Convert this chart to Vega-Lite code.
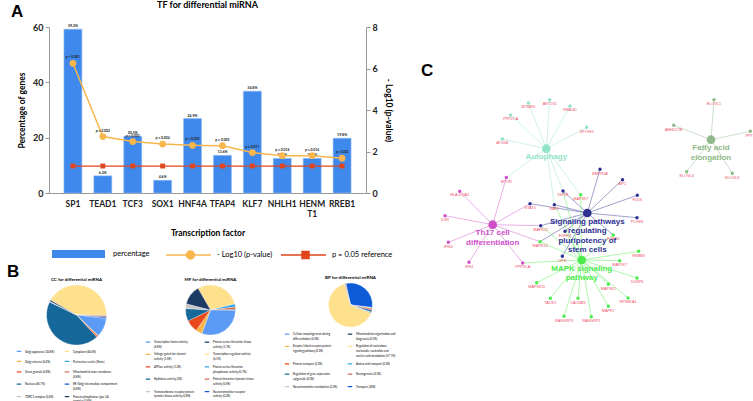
{
  "$schema": "https://vega.github.io/schema/vega-lite/v6.json",
  "background": "white",
  "padding": {"left": 7, "top": 1, "right": 0, "bottom": 0},
  "config": {
    "view": {"stroke": null},
    "font": "Lato",
    "axis": {"labelFont": "Lato", "titleFont": "Lato"},
    "legend": {"labelFont": "Lato"}
  },
  "datasets": {
    "tf": [
      {"tf": "SP1", "pct": 59.2, "pctl": "59.2%", "logp": 6.25, "ref": 1.3, "p": "p < 0.001"},
      {"tf": "TEAD1", "pct": 6.2, "pctl": "6.2%", "logp": 2.72, "ref": 1.3, "p": "p = 0.002"},
      {"tf": "TCF3", "pct": 20.5, "pctl": "20.5%", "logp": 2.48, "ref": 1.3, "p": "p = 0.003"},
      {"tf": "SOX1", "pct": 4.6, "pctl": "4.6%", "logp": 2.36, "ref": 1.3, "p": "p = 0.004"},
      {"tf": "HNF4A", "pct": 26.9, "pctl": "26.9%", "logp": 2.3, "ref": 1.3, "p": "p = 0.005"},
      {"tf": "TFAP4", "pct": 13.6, "pctl": "13.6%", "logp": 2.28, "ref": 1.3, "p": "p = 0.005"},
      {"tf": "KLF7", "pct": 36.8, "pctl": "36.8%", "logp": 1.95, "ref": 1.3, "p": "p = 0.011"},
      {"tf": "NHLH1", "pct": 12.5, "pctl": "12.5%", "logp": 1.8, "ref": 1.3, "p": "p = 0.016"},
      {"tf": "HENMT1", "pct": 12.5, "pctl": "12.5%", "logp": 1.8, "ref": 1.3, "p": "p = 0.016"},
      {"tf": "RREB1", "pct": 19.8, "pctl": "19.8%", "logp": 1.68, "ref": 1.3, "p": "p = 0.02"}
    ],
    "cc": [
      {"cat": "Cytoplasm (44.4%)", "v": 44.4, "o": 1},
      {"cat": "Perinuclear vesicle (None)", "v": 0.3, "o": 2},
      {"cat": "Mitochondrial outer membrane (0.8%)", "v": 0.8, "o": 3},
      {"cat": "ER-Golgi intermediate compartment (0.8%)", "v": 0.8, "o": 4},
      {"cat": "Golgi apparatus (10.8%)", "v": 10.8, "o": 5},
      {"cat": "Golgi cisterna (0.4%)", "v": 0.4, "o": 6},
      {"cat": "Stress granule (0.8%)", "v": 0.8, "o": 7},
      {"cat": "Nucleus (46.7%)", "v": 46.7, "o": 8},
      {"cat": "TORC1 complex (0.4%)", "v": 0.4, "o": 9},
      {"cat": "Protein phosphatase type 2A complex (0.8%)", "v": 0.8, "o": 10}
    ],
    "mf": [
      {"cat": "Transcription regulator activity (6.1%)", "v": 29, "o": 1},
      {"cat": "Protein serine/threonine phosphatase activity (0.7%)", "v": 2, "o": 2},
      {"cat": "Protein threonine/tyrosine kinase activity (0.5%)", "v": 1.7, "o": 3},
      {"cat": "Neurotransmitter receptor activity (0.2%)", "v": 0.4, "o": 4},
      {"cat": "Transcription factor activity (6.8%)", "v": 30, "o": 5},
      {"cat": "Voltage-gated ion channel activity (1.5%)", "v": 4, "o": 6},
      {"cat": "ATPase activity (1.2%)", "v": 8, "o": 7},
      {"cat": "Hydrolase activity (2%)", "v": 8, "o": 8},
      {"cat": "Transmembrane receptor protein tyrosine kinase activity (0.8%)", "v": 3, "o": 9},
      {"cat": "Protein serine/threonine kinase activity (1.7%)", "v": 12.5, "o": 10}
    ],
    "bp": [
      {"cat": "Transport (28%)", "v": 30, "o": 1},
      {"cat": "Cellular morphogenesis during differentiation (0.3%)", "v": 0.5, "o": 2},
      {"cat": "Enzyme linked receptor protein signaling pathway (0.3%)", "v": 0.5, "o": 3},
      {"cat": "Protein transport (0.3%)", "v": 1, "o": 4},
      {"cat": "Regulation of gene expression, epigenetic (0.3%)", "v": 1.5, "o": 5},
      {"cat": "Neurotransmitter metabolism (0.3%)", "v": 0.5, "o": 6},
      {"cat": "Mitochondrion organization and biogenesis (0.3%)", "v": 0.5, "o": 7},
      {"cat": "Regulation of nucleobase, nucleoside, nucleotide and nucleic acid metabolism (57.7%)", "v": 64, "o": 8},
      {"cat": "Amino acid transport (0.3%)", "v": 0.5, "o": 9},
      {"cat": "Neurogenesis (0.3%)", "v": 0.5, "o": 10}
    ],
    "nodes": [
      {"id": "aut", "label": "Autophagy", "x": 542.3, "y": 150.7, "g": "aut", "kind": "hub"},
      {"id": "fat", "label": "Fatty acid\nelongation", "x": 707, "y": 141.7, "g": "fat", "kind": "hub"},
      {"id": "th17", "label": "Th17 cell\ndifferentiation", "x": 488.7, "y": 226.7, "g": "th17", "kind": "hub"},
      {"id": "sig", "label": "Signaling pathways\nregulating\npluripotency of\nstem cells", "x": 583.3, "y": 215, "g": "sig", "kind": "hub"},
      {"id": "mapk", "label": "MAPK signaling\npathway", "x": 577.7, "y": 262, "g": "mapk", "kind": "hub"},
      {"id": "MTMR3", "x": 524.3, "y": 105, "g": "aut", "kind": "gene"},
      {"id": "AKT1S1", "x": 545.7, "y": 101.7, "g": "aut", "kind": "gene"},
      {"id": "RRAGD", "x": 566, "y": 108, "g": "aut", "kind": "gene"},
      {"id": "PPP2CA", "x": 506.7, "y": 117, "g": "aut", "kind": "gene"},
      {"id": "ZFYVE1", "x": 582.7, "y": 129.3, "g": "aut", "kind": "gene"},
      {"id": "ATG2B", "x": 498.3, "y": 141, "g": "aut", "kind": "gene"},
      {"id": "ELOVL1", "x": 710, "y": 101.7, "g": "fat", "kind": "gene"},
      {"id": "ABHD17B", "x": 669.7, "y": 127.3, "g": "fat", "kind": "gene"},
      {"id": "PPT1", "x": 746.3, "y": 133.3, "g": "fat", "kind": "gene"},
      {"id": "ELOVL4", "x": 682.7, "y": 173.7, "g": "fat", "kind": "gene"},
      {"id": "ELOVL6", "x": 728.3, "y": 175.3, "g": "fat", "kind": "gene"},
      {"id": "MTOR", "x": 502.3, "y": 179.5, "g": "th17", "kind": "gene"},
      {"id": "HLA-DQA2", "x": 455.7, "y": 193.2, "g": "th17", "kind": "gene"},
      {"id": "IL6R", "x": 441, "y": 217.7, "g": "th17", "kind": "gene"},
      {"id": "IFNG", "x": 444.3, "y": 244.3, "g": "th17", "kind": "gene"},
      {"id": "IRF4", "x": 465, "y": 264.3, "g": "th17", "kind": "gene"},
      {"id": "STAT3", "x": 526, "y": 205.7, "g": "sig", "kind": "gene"},
      {"id": "MAPK12", "x": 536.7, "y": 227.7, "g": "sig", "kind": "gene"},
      {"id": "MAPK14", "x": 536, "y": 243.7, "g": "mapk", "kind": "gene"},
      {"id": "PPP3CA", "x": 518.7, "y": 265, "g": "th17", "kind": "gene"},
      {"id": "BMPR1A", "x": 596, "y": 171.3, "g": "sig", "kind": "gene"},
      {"id": "APC", "x": 618.5, "y": 181.7, "g": "sig", "kind": "gene"},
      {"id": "FZD6", "x": 633.3, "y": 197.3, "g": "sig", "kind": "gene"},
      {"id": "PCGF6", "x": 633, "y": 219.7, "g": "sig", "kind": "gene"},
      {"id": "FGFR2", "x": 609.3, "y": 237, "g": "mapk", "kind": "gene"},
      {"id": "FGFR3", "x": 561, "y": 233.3, "g": "sig", "kind": "gene"},
      {"id": "LIFR", "x": 558.3, "y": 258.3, "g": "sig", "kind": "gene"},
      {"id": "IGF1R", "x": 559, "y": 193, "g": "sig", "kind": "gene"},
      {"id": "RAF1", "x": 550.3, "y": 206.7, "g": "sig", "kind": "gene"},
      {"id": "MAP3K7", "x": 576.7, "y": 196.8, "g": "mapk", "kind": "gene"},
      {"id": "ERBB3", "x": 634.7, "y": 253.3, "g": "mapk", "kind": "gene"},
      {"id": "MAP2K7", "x": 615.7, "y": 262.7, "g": "mapk", "kind": "gene"},
      {"id": "DUSP6", "x": 633, "y": 280, "g": "mapk", "kind": "gene"},
      {"id": "MAP3K1", "x": 604.3, "y": 286.3, "g": "mapk", "kind": "gene"},
      {"id": "RPS6KA1", "x": 624, "y": 300, "g": "mapk", "kind": "gene"},
      {"id": "MAPK7", "x": 604.3, "y": 308.3, "g": "mapk", "kind": "gene"},
      {"id": "RASGRP1", "x": 587.3, "y": 318.7, "g": "mapk", "kind": "gene"},
      {"id": "RASGRP3", "x": 560, "y": 318.3, "g": "mapk", "kind": "gene"},
      {"id": "CACNB3", "x": 574, "y": 300.3, "g": "mapk", "kind": "gene"},
      {"id": "TAOK1", "x": 546.3, "y": 300.3, "g": "mapk", "kind": "gene"},
      {"id": "MAP3K11", "x": 532.7, "y": 284.7, "g": "mapk", "kind": "gene"}
    ],
    "edges": [
      {"s": "aut", "t": "MTMR3"}, {"s": "aut", "t": "AKT1S1"}, {"s": "aut", "t": "RRAGD"}, {"s": "aut", "t": "PPP2CA"},
      {"s": "aut", "t": "ZFYVE1"}, {"s": "aut", "t": "ATG2B"}, {"s": "aut", "t": "MTOR"}, {"s": "aut", "t": "IGF1R"},
      {"s": "aut", "t": "MAP3K7"}, {"s": "aut", "t": "RAF1"},
      {"s": "fat", "t": "ELOVL1"}, {"s": "fat", "t": "ABHD17B"}, {"s": "fat", "t": "PPT1"}, {"s": "fat", "t": "ELOVL4"}, {"s": "fat", "t": "ELOVL6"},
      {"s": "th17", "t": "MTOR"}, {"s": "th17", "t": "HLA-DQA2"}, {"s": "th17", "t": "IL6R"}, {"s": "th17", "t": "IFNG"},
      {"s": "th17", "t": "IRF4"}, {"s": "th17", "t": "STAT3"}, {"s": "th17", "t": "MAPK12"}, {"s": "th17", "t": "MAPK14"}, {"s": "th17", "t": "PPP3CA"},
      {"s": "sig", "t": "BMPR1A"}, {"s": "sig", "t": "APC"}, {"s": "sig", "t": "FZD6"}, {"s": "sig", "t": "PCGF6"},
      {"s": "sig", "t": "FGFR2"}, {"s": "sig", "t": "FGFR3"}, {"s": "sig", "t": "LIFR"}, {"s": "sig", "t": "IGF1R"},
      {"s": "sig", "t": "RAF1"}, {"s": "sig", "t": "STAT3"}, {"s": "sig", "t": "MAPK12"}, {"s": "sig", "t": "MAPK14"},
      {"s": "mapk", "t": "ERBB3"}, {"s": "mapk", "t": "MAP2K7"}, {"s": "mapk", "t": "DUSP6"}, {"s": "mapk", "t": "MAP3K1"},
      {"s": "mapk", "t": "RPS6KA1"}, {"s": "mapk", "t": "MAPK7"}, {"s": "mapk", "t": "RASGRP1"}, {"s": "mapk", "t": "RASGRP3"},
      {"s": "mapk", "t": "CACNB3"}, {"s": "mapk", "t": "TAOK1"}, {"s": "mapk", "t": "MAP3K11"}, {"s": "mapk", "t": "PPP3CA"},
      {"s": "mapk", "t": "MAPK12"}, {"s": "mapk", "t": "MAPK14"}, {"s": "mapk", "t": "FGFR2"}, {"s": "mapk", "t": "FGFR3"},
      {"s": "mapk", "t": "IGF1R"}, {"s": "mapk", "t": "RAF1"}, {"s": "mapk", "t": "MAP3K7"}
    ]
  },
  "resolve": {"scale": {"color": "independent", "theta": "independent", "size": "independent", "fill": "independent", "stroke": "independent"}},
  "spacing": 3,
  "hconcat": [
    {
      "spacing": 0,
      "resolve": {"scale": {"color": "independent", "theta": "independent", "fill": "independent", "stroke": "independent"}},
      "vconcat": [
        {
          "bounds": "flush",
          "spacing": 33,
          "hconcat": [
            {
              "width": 1,
              "height": 1,
              "title": {"text": "A", "anchor": "start", "frame": "group", "fontSize": 17, "fontWeight": "bold", "font": "Liberation Sans", "offset": 10, "dx": -4, "dy": 4},
              "data": {"values": []},
              "mark": {"type": "point", "opacity": 0}
            },
            {
              "width": 317,
              "height": 166,
              "title": {"text": "TF for differential miRNA", "fontSize": 9, "fontWeight": "bold", "font": "Lato", "offset": 13},
              "data": {"name": "tf"},
              "encoding": {
                "x": {
                  "field": "tf", "type": "nominal", "sort": null,
                  "scale": {"paddingInner": 0.4, "paddingOuter": 0.5},
                  "axis": {
                    "title": "Transcription factor", "labelAngle": 0, "labelFontWeight": "bold", "labelFontSize": 8.5,
                    "titleFontSize": 8.5, "titleFontWeight": "bold", "ticks": false, "domainColor": "#999999",
                    "labelPadding": 6, "titlePadding": 10, "labelColor": "#222222",
                    "labelExpr": "datum.label == 'HENMT1' ? ['HENM', 'T1'] : datum.label"
                  }
                }
              },
              "layer": [
                {
                  "encoding": {
                    "y": {
                      "field": "pct", "type": "quantitative",
                      "scale": {"domain": [0, 60], "nice": false},
                      "axis": {
                        "title": "Percentage of genes", "values": [0, 20, 40, 60], "grid": false,
                        "domainColor": "#999999", "tickColor": "#999999", "tickSize": 4,
                        "labelFontWeight": "bold", "labelFontSize": 9, "labelColor": "#222222",
                        "titleFontSize": 8.5, "titleFontWeight": "bold", "titlePadding": 6
                      }
                    }
                  },
                  "layer": [
                    {
                      "mark": {"type": "bar", "stroke": "#8FBAF5", "strokeWidth": 0.6},
                      "encoding": {
                        "fill": {
                          "datum": "percentage", "type": "nominal",
                          "scale": {"domain": ["percentage"], "range": ["#3F88EC"]},
                          "legend": {
                            "orient": "none", "legendX": 32, "legendY": 222, "title": null,
                            "symbolType": "M0,-0.8H10.6V0.8H0Z",
                            "symbolSize": 100, "labelFontSize": 7.5, "labelOffset": 56, "symbolStrokeWidth": 0
                          }
                        }
                      }
                    },
                    {
                      "mark": {"type": "text", "fontSize": 3.6, "fontWeight": "bold", "baseline": "bottom", "dy": -1, "color": "#222222"},
                      "encoding": {"text": {"field": "pctl"}}
                    }
                  ]
                },
                {
                  "encoding": {
                    "y": {
                      "field": "logp", "type": "quantitative",
                      "scale": {"domain": [0, 8], "nice": false},
                      "axis": {
                        "orient": "right", "title": "- Log10 (p-value)", "values": [0, 2, 4, 6, 8], "grid": false,
                        "domainColor": "#999999", "tickColor": "#999999", "tickSize": 4,
                        "labelFontWeight": "bold", "labelFontSize": 9, "labelColor": "#222222",
                        "titleFontSize": 8.5, "titleFontWeight": "bold", "titlePadding": 6
                      }
                    }
                  },
                  "layer": [
                    {
                      "mark": {"type": "line", "strokeWidth": 1.5},
                      "encoding": {
                        "stroke": {
                          "datum": "- Log10 (p-value)", "type": "nominal",
                          "scale": {"domain": ["- Log10 (p-value)"], "range": ["#F8B64C"]},
                          "legend": {
                            "orient": "none", "legendX": 145, "legendY": 222, "title": null,
                            "symbolType": "M0,0H9M4.1,0A0.8,0.8,0,1,1,5.7,0A0.8,0.8,0,1,1,4.1,0Z",
                            "symbolSize": 100, "symbolStrokeWidth": 1.5, "symbolFillColor": "#F8B64C",
                            "labelFontSize": 7.5, "labelOffset": 45
                          }
                        }
                      }
                    },
                    {
                      "mark": {"type": "point", "filled": true, "size": 45, "opacity": 1, "color": "#F8B64C"}
                    },
                    {
                      "mark": {"type": "line", "strokeWidth": 1.2},
                      "encoding": {
                        "y": {"field": "ref", "type": "quantitative", "axis": {"title": "- Log10 (p-value)"}},
                        "color": {
                          "datum": "p = 0.05 reference", "type": "nominal",
                          "scale": {"domain": ["p = 0.05 reference"], "range": ["#E0461E"]},
                          "legend": {
                            "orient": "none", "legendX": 260, "legendY": 222, "title": null,
                            "symbolType": "M0,0H9M4.2,-0.7H5.6V0.7H4.2Z",
                            "symbolSize": 100, "symbolStrokeWidth": 1.5, "symbolFillColor": "#E0461E",
                            "labelFontSize": 7.5, "labelOffset": 45
                          }
                        }
                      }
                    },
                    {
                      "mark": {"type": "square", "size": 24, "opacity": 1, "color": "#E0461E"},
                      "encoding": {
                        "y": {"field": "ref", "type": "quantitative", "axis": {"title": "- Log10 (p-value)"}}
                      }
                    },
                    {
                      "mark": {"type": "text", "fontSize": 3.4, "fontWeight": "bold", "baseline": "bottom", "dy": -4, "color": "#222222"},
                      "encoding": {"text": {"field": "p"}}
                    }
                  ]
                }
              ],
              "resolve": {"scale": {"y": "independent"}}
            }
          ]
        },
        {
          "title": {"text": "B", "orient": "top", "anchor": "start", "frame": "bounds", "fontSize": 17, "fontWeight": "bold", "font": "Liberation Sans", "offset": -6, "dx": -8},
          "spacing": 6,
          "resolve": {"scale": {"color": "independent", "theta": "independent"}},
          "hconcat": [
            {
              "width": 123, "height": 60,
              "title": {"text": "CC for differential miRNA", "fontSize": 4.5, "fontWeight": "bold", "offset": 3},
              "data": {"name": "cc"},
              "mark": {"type": "arc", "outerRadius": 30, "stroke": "white", "strokeWidth": 0.3},
              "encoding": {
                "theta": {"field": "v", "type": "quantitative", "stack": true, "scale": {"range": [-1.047, 5.236]}},
                "order": {"field": "o", "type": "quantitative"},
                "color": {
                  "field": "cat", "type": "nominal",
                  "scale": {
                    "domain": ["Golgi apparatus (10.8%)", "Cytoplasm (44.4%)", "Golgi cisterna (0.4%)", "Perinuclear vesicle (None)", "Stress granule (0.8%)", "Mitochondrial outer membrane (0.8%)", "Nucleus (46.7%)", "ER-Golgi intermediate compartment (0.8%)", "TORC1 complex (0.4%)", "Protein phosphatase type 2A complex (0.8%)"],
                    "range": ["#5B9BF5", "#FFE08C", "#F8B547", "#2FA6E8", "#E8491D", "#D46A4F", "#16689A", "#0E5BD8", "#C8C8C8", "#1D3A63"]
                  },
                  "legend": {
                    "orient": "bottom", "direction": "horizontal", "columns": 2, "gridAlign": "each", "title": null,
                    "labelFontSize": 2.8, "symbolType": "M-1,-0.45H1V0.45H-1Z", "symbolSize": 36,
                    "rowPadding": 0.4, "columnPadding": 6, "labelOffset": 2, "labelLimit": 80, "offset": 2, "padding": 0,
                    "labelExpr": "length(datum.label) <= 34 ? datum.label : length(slice(datum.label, lastindexof(slice(datum.label,0,34),' ')+1)) <= 34 ? [slice(datum.label,0,lastindexof(slice(datum.label,0,34),' ')), slice(datum.label,lastindexof(slice(datum.label,0,34),' ')+1)] : [slice(datum.label,0,lastindexof(slice(datum.label,0,34),' ')), slice(slice(datum.label,lastindexof(slice(datum.label,0,34),' ')+1),0,lastindexof(slice(slice(datum.label,lastindexof(slice(datum.label,0,34),' ')+1),0,34),' ')), slice(slice(datum.label,lastindexof(slice(datum.label,0,34),' ')+1),lastindexof(slice(slice(datum.label,lastindexof(slice(datum.label,0,34),' ')+1),0,34),' ')+1)]"
                  }
                }
              }
            },
            {
              "width": 133, "height": 50,
              "title": {"text": "MF for differential miRNA", "fontSize": 4.5, "fontWeight": "bold", "offset": 3},
              "data": {"name": "mf"},
              "mark": {"type": "arc", "outerRadius": 25, "stroke": "white", "strokeWidth": 0.3},
              "encoding": {
                "theta": {"field": "v", "type": "quantitative", "stack": true, "scale": {"range": [-0.524, 5.760]}},
                "order": {"field": "o", "type": "quantitative"},
                "color": {
                  "field": "cat", "type": "nominal",
                  "scale": {
                    "domain": ["Transcription factor activity (6.8%)", "Protein serine/threonine kinase activity (1.7%)", "Voltage-gated ion channel activity (1.5%)", "Transcription regulator activity (6.1%)", "ATPase activity (1.2%)", "Protein serine/threonine phosphatase activity (0.7%)", "Hydrolase activity (2%)", "Protein threonine/tyrosine kinase activity (0.5%)", "Transmembrane receptor protein tyrosine kinase activity (0.8%)", "Neurotransmitter receptor activity (0.2%)"],
                    "range": ["#5B9BF5", "#1D3A63", "#F8B547", "#FFE08C", "#E8491D", "#2FA6E8", "#16689A", "#D46A4F", "#C8C8C8", "#0E5BD8"]
                  },
                  "legend": {
                    "orient": "bottom", "direction": "horizontal", "columns": 2, "gridAlign": "each", "title": null,
                    "labelFontSize": 2.8, "symbolType": "M-1,-0.45H1V0.45H-1Z", "symbolSize": 36,
                    "rowPadding": 0.4, "columnPadding": 6, "labelOffset": 2, "labelLimit": 80, "offset": 3, "padding": 0,
                    "labelExpr": "length(datum.label) <= 34 ? datum.label : length(slice(datum.label, lastindexof(slice(datum.label,0,34),' ')+1)) <= 34 ? [slice(datum.label,0,lastindexof(slice(datum.label,0,34),' ')), slice(datum.label,lastindexof(slice(datum.label,0,34),' ')+1)] : [slice(datum.label,0,lastindexof(slice(datum.label,0,34),' ')), slice(slice(datum.label,lastindexof(slice(datum.label,0,34),' ')+1),0,lastindexof(slice(slice(datum.label,lastindexof(slice(datum.label,0,34),' ')+1),0,34),' ')), slice(slice(datum.label,lastindexof(slice(datum.label,0,34),' ')+1),lastindexof(slice(slice(datum.label,lastindexof(slice(datum.label,0,34),' ')+1),0,34),' ')+1)]"
                  }
                }
              }
            },
            {
              "width": 135, "height": 40,
              "title": {"text": "BP for differential miRNA", "fontSize": 4.5, "fontWeight": "bold", "offset": 3},
              "data": {"name": "bp"},
              "mark": {"type": "arc", "outerRadius": 22, "stroke": "white", "strokeWidth": 0.3},
              "encoding": {
                "theta": {"field": "v", "type": "quantitative", "stack": true, "scale": {"range": [-0.21, 6.073]}},
                "order": {"field": "o", "type": "quantitative"},
                "color": {
                  "field": "cat", "type": "nominal",
                  "scale": {
                    "domain": ["Cellular morphogenesis during differentiation (0.3%)", "Mitochondrion organization and biogenesis (0.3%)", "Enzyme linked receptor protein signaling pathway (0.3%)", "Regulation of nucleobase, nucleoside, nucleotide and nucleic acid metabolism (57.7%)", "Protein transport (0.3%)", "Amino acid transport (0.3%)", "Regulation of gene expression, epigenetic (0.3%)", "Neurogenesis (0.3%)", "Neurotransmitter metabolism (0.3%)", "Transport (28%)"],
                    "range": ["#5B9BF5", "#1D3A63", "#F8B547", "#FFE08C", "#E8491D", "#2FA6E8", "#16689A", "#D46A4F", "#C8C8C8", "#0E5BD8"]
                  },
                  "legend": {
                    "orient": "bottom", "direction": "horizontal", "columns": 2, "gridAlign": "each", "title": null,
                    "labelFontSize": 2.8, "symbolType": "M-1,-0.45H1V0.45H-1Z", "symbolSize": 36,
                    "rowPadding": 0.4, "columnPadding": 6, "labelOffset": 2, "labelLimit": 80, "offset": 5, "padding": 0,
                    "labelExpr": "length(datum.label) <= 34 ? datum.label : length(slice(datum.label, lastindexof(slice(datum.label,0,34),' ')+1)) <= 34 ? [slice(datum.label,0,lastindexof(slice(datum.label,0,34),' ')), slice(datum.label,lastindexof(slice(datum.label,0,34),' ')+1)] : [slice(datum.label,0,lastindexof(slice(datum.label,0,34),' ')), slice(slice(datum.label,lastindexof(slice(datum.label,0,34),' ')+1),0,lastindexof(slice(slice(datum.label,lastindexof(slice(datum.label,0,34),' ')+1),0,34),' ')), slice(slice(datum.label,lastindexof(slice(datum.label,0,34),' ')+1),lastindexof(slice(slice(datum.label,lastindexof(slice(datum.label,0,34),' ')+1),0,34),' ')+1)]"
                  }
                }
              }
            }
          ]
        }
      ]
    },
    {
      "width": 336,
      "height": 368,
      "title": {"text": "C", "orient": "top", "anchor": "start", "frame": "group", "fontSize": 17, "fontWeight": "bold", "font": "Liberation Sans", "offset": -53},
      "layer": [
        {
          "data": {"name": "edges"},
          "transform": [
            {"lookup": "s", "from": {"data": {"name": "nodes"}, "key": "id", "fields": ["x", "y"]}, "as": ["sx", "sy"]},
            {"lookup": "t", "from": {"data": {"name": "nodes"}, "key": "id", "fields": ["x", "y"]}, "as": ["tx", "ty"]}
          ],
          "mark": {"type": "rule", "strokeWidth": 0.7, "opacity": 0.65},
          "encoding": {
            "x": {"field": "sx", "type": "quantitative", "scale": {"domain": [417, 753], "nice": false, "zero": false}, "axis": null},
            "y": {"field": "sy", "type": "quantitative", "scale": {"domain": [29, 397], "nice": false, "zero": false, "reverse": true}, "axis": null},
            "x2": {"field": "tx"},
            "y2": {"field": "ty"},
            "color": {
              "field": "s", "type": "nominal",
              "scale": {"domain": ["aut", "fat", "th17", "sig", "mapk"], "range": ["#93E3C8", "#8FB98A", "#CF4FC9", "#2E3192", "#4CEB4C"]},
              "legend": null
            }
          }
        },
        {
          "data": {"name": "nodes"},
          "mark": {"type": "circle", "opacity": 1},
          "encoding": {
            "x": {"field": "x", "type": "quantitative", "axis": null},
            "y": {"field": "y", "type": "quantitative", "axis": null},
            "color": {"field": "g", "type": "nominal", "legend": null},
            "size": {"field": "kind", "type": "nominal", "scale": {"domain": ["hub", "gene"], "range": [75, 12]}, "legend": null}
          }
        },
        {
          "data": {"name": "nodes"},
          "transform": [{"filter": "datum.kind == 'gene'"}],
          "mark": {"type": "text", "fontSize": 3.8, "font": "Liberation Sans", "color": "#EE4D64", "baseline": "top", "dy": 2.2},
          "encoding": {
            "x": {"field": "x", "type": "quantitative", "axis": null},
            "y": {"field": "y", "type": "quantitative", "axis": null},
            "text": {"field": "id"}
          }
        },
        {
          "data": {"name": "nodes"},
          "transform": [{"filter": "datum.kind == 'hub'"}],
          "mark": {"type": "text", "fontSize": 8, "fontWeight": "bold", "font": "Liberation Sans", "baseline": "top", "dy": 4.5, "lineBreak": "\n", "lineHeight": 9.5},
          "encoding": {
            "x": {"field": "x", "type": "quantitative", "axis": null},
            "y": {"field": "y", "type": "quantitative", "axis": null},
            "text": {"field": "label"},
            "color": {"field": "g", "type": "nominal", "legend": null}
          }
        }
      ]
    }
  ]
}
